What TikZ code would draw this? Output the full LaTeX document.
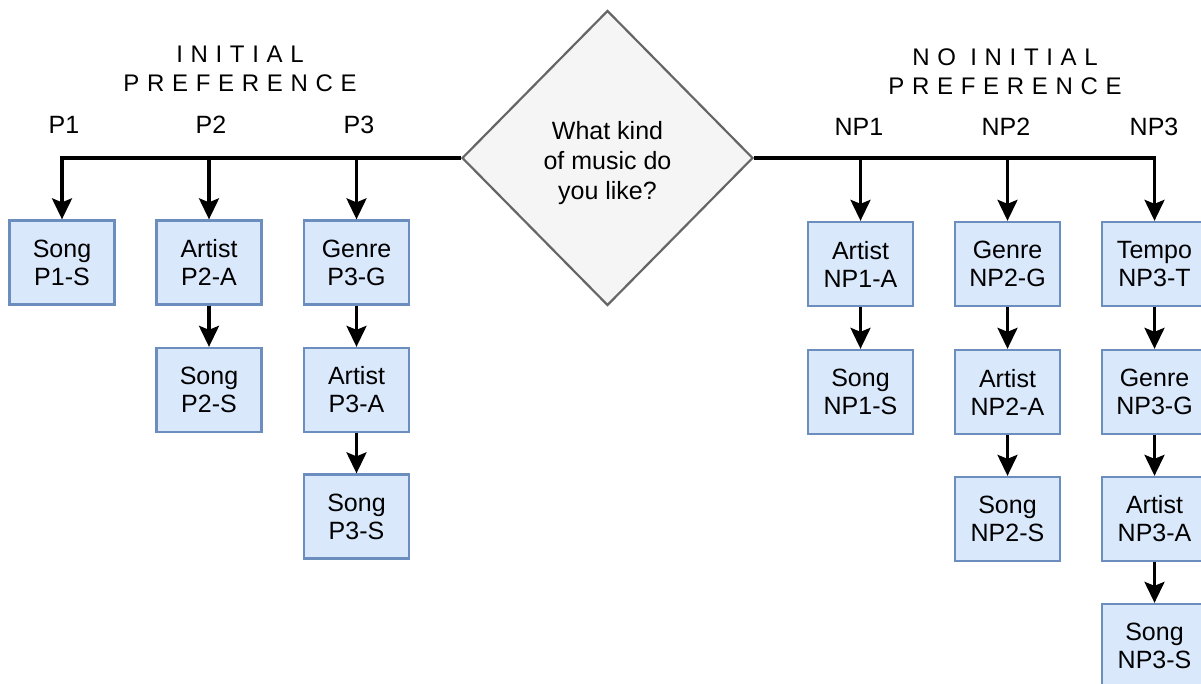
\documentclass[tikz,border=0pt]{standalone}
\usepackage{fontspec}
\setmainfont{Liberation Sans}
\usetikzlibrary{shapes.geometric,arrows.meta}
\newfontfamily\spacedfont[LetterSpace=32]{Liberation Sans}
\definecolor{boxfill}{HTML}{DAE8FC}
\definecolor{boxline}{HTML}{6C8EBF}
\definecolor{qfill}{HTML}{F5F5F5}
\definecolor{qline}{HTML}{666666}
\tikzset{
  stepbox/.style={draw=boxline, fill=boxfill, line width=2.3pt,
    minimum width=105pt, minimum height=84pt, inner sep=0pt,
    align=center, font=\fontsize{25}{28}\selectfont},
  question/.style={diamond, draw=qline, fill=qfill, line width=2.2pt,
    minimum width=291pt, minimum height=295pt, inner sep=0pt, aspect=1,
    align=center, font=\fontsize{25}{30}\selectfont},
  branchlabel/.style={font=\fontsize{25}{28}\selectfont},
  grouptitle/.style={align=center, font=\spacedfont\fontsize{24}{29}\selectfont},
  arr/.style={-{Stealth[length=21pt,width=20pt,inset=4pt]}, line width=3.2pt, black},
}
\begin{document}
\begin{tikzpicture}[x=1pt,y=-1pt]
\useasboundingbox (0,0) rectangle (1201,684);
\clip (0,0) rectangle (1201,684);

% decision
\node[question] (q) at (607.5,158) {\rule{0pt}{28pt}What kind\\of music do\\you like?};

% group titles and branch labels
\node[grouptitle] (tl) at (240,69) {INITIAL\\PREFERENCE};
\node[grouptitle] (tr) at (1005,72) {NO INITIAL\\PREFERENCE};
\node[branchlabel] (lp1) at (64,125) {P1};
\node[branchlabel] (lp2) at (211,125) {P2};
\node[branchlabel] (lp3) at (359,125) {P3};
\node[branchlabel] (lnp1) at (859,127) {NP1};
\node[branchlabel] (lnp2) at (1006,127) {NP2};
\node[branchlabel] (lnp3) at (1154,127) {NP3};

% initial preference paths
\node[stepbox] (p1s) at (62,262.5) {Song\\P1-S};
\node[stepbox] (p2a) at (209,262.5) {Artist\\P2-A};
\node[stepbox] (p2s) at (209,390) {Song\\P2-S};
\node[stepbox] (p3g) at (356.5,262.5) {Genre\\P3-G};
\node[stepbox] (p3a) at (356.5,390) {Artist\\P3-A};
\node[stepbox] (p3s) at (356.5,516.5) {Song\\P3-S};

% no initial preference paths
\node[stepbox] (n1a) at (860.5,264) {Artist\\NP1-A};
\node[stepbox] (n1s) at (860.5,392) {Song\\NP1-S};
\node[stepbox] (n2g) at (1007.5,264) {Genre\\NP2-G};
\node[stepbox] (n2a) at (1007.5,392) {Artist\\NP2-A};
\node[stepbox] (n2s) at (1007.5,519) {Song\\NP2-S};
\node[stepbox] (n3t) at (1154.5,264) {Tempo\\NP3-T};
\node[stepbox] (n3g) at (1154.5,392) {Genre\\NP3-G};
\node[stepbox] (n3a) at (1154.5,519) {Artist\\NP3-A};
\node[stepbox] (n3s) at (1154.5,646) {Song\\NP3-S};

% branches off the decision
\draw[arr] (q.west) -| (p1s.north);
\draw[arr] (p2a.north |- q.west) -- (p2a.north);
\draw[arr] (p3g.north |- q.west) -- (p3g.north);
\draw[arr] (q.east) -| (n3t.north);
\draw[arr] (n1a.north |- q.east) -- (n1a.north);
\draw[arr] (n2g.north |- q.east) -- (n2g.north);

% steps within each path
\draw[arr] (p2a) -- (p2s);
\draw[arr] (p3g) -- (p3a);
\draw[arr] (p3a) -- (p3s);
\draw[arr] (n1a) -- (n1s);
\draw[arr] (n2g) -- (n2a);
\draw[arr] (n2a) -- (n2s);
\draw[arr] (n3t) -- (n3g);
\draw[arr] (n3g) -- (n3a);
\draw[arr] (n3a) -- (n3s);
\end{tikzpicture}
\end{document}
